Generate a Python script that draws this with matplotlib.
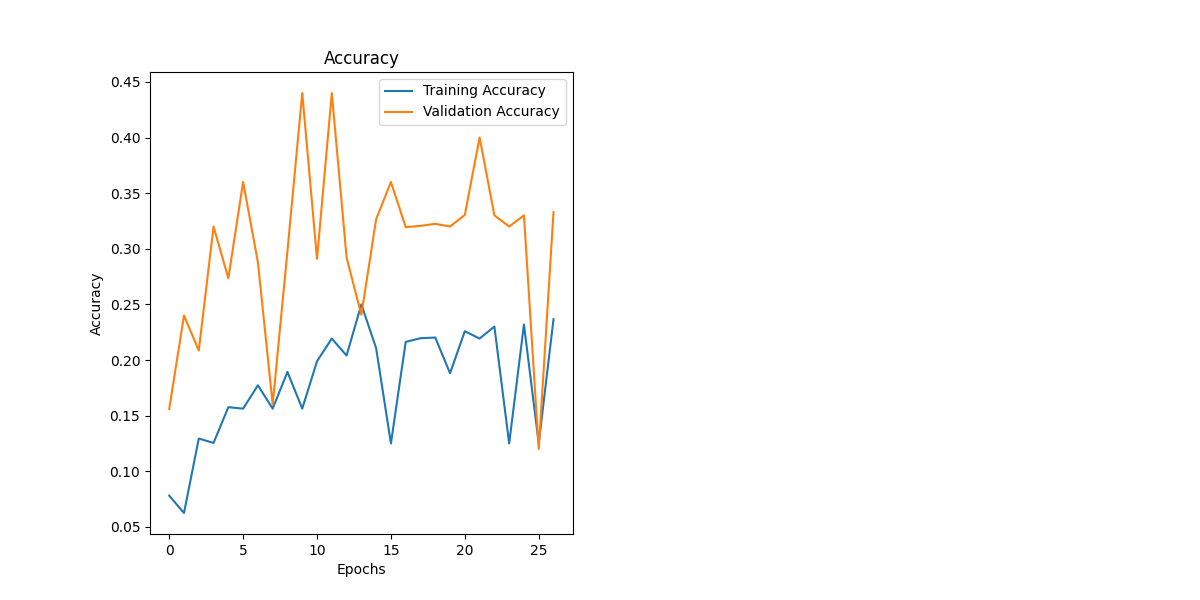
import matplotlib
matplotlib.use("Agg")
import matplotlib.pyplot as plt

epochs = list(range(27))

train_acc = [0.0781, 0.0625, 0.1294, 0.1255, 0.1576, 0.1563, 0.1773, 0.1563, 0.1893,
             0.1563, 0.1989, 0.2193, 0.2040, 0.2500, 0.2106, 0.1250, 0.2163, 0.2196,
             0.2202, 0.1881, 0.2259, 0.2193, 0.2301, 0.1250, 0.2319, 0.1250, 0.2367]

val_acc = [0.1560, 0.2400, 0.2085, 0.3200, 0.2735, 0.3600, 0.2879, 0.1600, 0.2980,
           0.4400, 0.2909, 0.4400, 0.2921, 0.2406, 0.3266, 0.3600, 0.3194, 0.3206,
           0.3224, 0.3200, 0.3304, 0.4000, 0.3300, 0.3200, 0.3300, 0.1200, 0.3329]

plt.figure(figsize=(12, 6))

plt.subplot(1, 2, 1)
plt.plot(epochs, train_acc, label="Training Accuracy")
plt.plot(epochs, val_acc, label="Validation Accuracy")
plt.title("Accuracy")
plt.xlabel("Epochs")
plt.ylabel("Accuracy")
plt.legend()

plt.savefig("out.png", dpi=100)
